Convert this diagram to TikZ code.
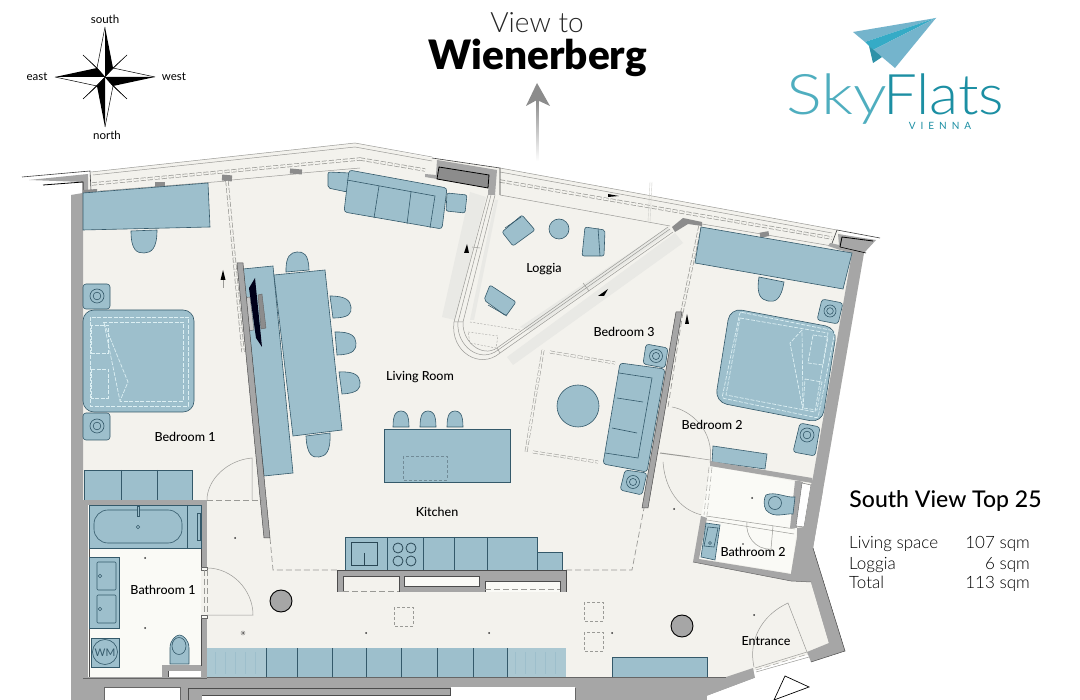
\documentclass[tikz,border=0pt]{standalone}
\usepackage{fontspec}
\setmainfont{Lato}
\newfontfamily\ltf{Lato Light}
\newfontfamily\blkf{Lato Black}
\newfontfamily\medf{Lato Medium}
\usetikzlibrary{calc}
\definecolor{floorc}{HTML}{F3F2ED}
\definecolor{bathc}{HTML}{FAFAF6}
\definecolor{bluef}{HTML}{9DBFCC}
\definecolor{blueg}{HTML}{ABC8D2}
\definecolor{blued}{HTML}{34596A}
\definecolor{wallc}{HTML}{A6A6A6}
\definecolor{wallb}{HTML}{8C8C8C}
\definecolor{linec}{HTML}{9A9A96}
\definecolor{shadec}{HTML}{E9E9E5}
\definecolor{bedd}{HTML}{DCEFF3}
\definecolor{teal1}{HTML}{1C8FA3}
\definecolor{teal2}{HTML}{4FAEBF}
\definecolor{pl1}{HTML}{74B4CC}
\definecolor{pl2}{HTML}{35ABC6}
\tikzset{
 furn/.style={fill=bluef,draw=blued,line width=.6pt},
 blk/.style={draw=blued,line width=.6pt},
 wall/.style={fill=wallc,draw=none},
 wallk/.style={fill=wallc,draw=black!70,line width=.5pt},
 thin1/.style={draw=linec,line width=.5pt},
 dline/.style={draw=linec,line width=.7pt,dash pattern=on 6pt off 3pt},
 glass/.style={draw=linec,line width=.7pt,dash pattern=on 5pt off 2pt,double=floorc,double distance=1.8pt},
 bdash/.style={draw=bedd,line width=.7pt,dash pattern=on 4pt off 1.5pt},
 room/.style={font=\medf\fontsize{12.5}{14}\selectfont,text=black,inner sep=0pt},
 comp/.style={font=\fontsize{11.5}{13}\selectfont,text=black,inner sep=0pt},
 tab/.style={font=\ltf\fontsize{17}{19}\selectfont,text=black,inner sep=0pt},
 mark1/.style={fill=black,draw=none},
 dot1/.style={fill=black!80,draw=none},
}
% half round stool: ends A,B and tip T
\newcommand{\stool}[4]{%
 \coordinate (sa) at (#1); \coordinate (sb) at (#2); \coordinate (st) at (#3,#4);
 \coordinate (sm) at ($(sa)!.5!(sb)$);
 \draw[furn] (sa) .. controls ($(sa)+0.85*(st)-0.85*(sm)$) and ($(st)+0.55*(sa)-0.55*(sm)$) .. (st)
   .. controls ($(st)+0.55*(sb)-0.55*(sm)$) and ($(sb)+0.85*(st)-0.85*(sm)$) .. (sb) -- cycle;}
\newcommand{\nstand}[4]{%
 \draw[furn,rounded corners=3pt] #1;
 \draw[blk] (#2,#3) circle (#4); \draw[blk] (#2,#3) circle (#4*0.55);}
\begin{document}
\begin{tikzpicture}[x=1pt,y=-1pt]
\useasboundingbox (0,0) rectangle (1080,700);
\fill[white] (0,0) rectangle (1080,700);
% floor
\fill[floorc] (91,172) -- (355,143) -- (432,158) -- (500,168) -- (837,230) -- (864,253) -- (813,548) -- (845,651) -- (807,655) -- (755,670) -- (707,696) -- (83,696) -- (83,190) -- cycle;
% ---- balcony lines
\draw[thin1] (91,172) -- (355,143) -- (432,157);
\draw[thin1] (93,175) -- (355,147) -- (432,161);
\draw[thin1] (100,191) -- (227,181) (232,180) -- (296,174) (302,173) -- (360,168);
\draw[glass] (92,184) -- (360,159);
\draw[glass] (360,159) -- (425,170);
\draw[thin1] (500,168) -- (837,230);
\draw[thin1] (500,172) -- (832,233);
\draw[thin1] (500,195) -- (670,226);
\draw[glass] (500,181) -- (832,238);
\draw[thin1] (702,224) -- (838,247);
\draw[draw=shadec!70!linec,line width=.4pt] (650,182) -- (648,222) (652,182) -- (650,222);
\fill[wallb] (155,182) rectangle (165,188);
\fill[wallb,rotate around={-5:(227,178)}] (222,175) rectangle (232,181);
\fill[wallb,rotate around={-5:(296,171)}] (290,169) rectangle (302,174);
\fill[wallb,rotate around={10:(764,235)}] (760,232) rectangle (769,237);
\draw[glass] (227,181) -- (243,352);
\draw[glass] (700,226) -- (682,312);
\draw[dline] (683,312) -- (668,407);
% ---- walls, left top
\draw[draw=black!75,line width=.6pt] (22,177) -- (90,171) -- (91,190);
\fill[wall] (29,180) -- (88,174) -- (88,190) -- (83,193) -- (83,182) -- cycle;
\fill[wall] (71,195) -- (83,193) -- (83,700) -- (71,700) -- cycle;
\draw[black,line width=.8pt] (43,185) -- (83,182) -- (83,193);
\fill[wallb] (83,190) -- (97,189) -- (97,193) -- (83,194) -- cycle;
% middle pier
\draw[draw=black!75,line width=.6pt] (432,158) -- (500,168) -- (500,195);
\fill[wall] (437,160) -- (497,170) -- (495,195) -- (488,195) -- (489,175) -- (439,167) -- (437,179) -- (425,177) -- (425,174) -- (436,175) -- cycle;
\fill[wallb,draw=black,line width=.8pt] (439,167) -- (489,175) -- (488,188) -- (437,179) -- cycle;
% right pier
\draw[draw=black!75,line width=.6pt] (831,246) -- (837,230) -- (880,238);
\fill[wall] (838,234) -- (876,240) -- (864,253) -- (852,253) -- (840,250) -- (828,246) -- (830,243) -- (839,245) -- cycle;
\fill[wall] (852,253) -- (864,253) -- (813,548) -- (797,537) -- (804,527) -- (813,477) -- cycle;
\draw[black,line width=.8pt] (840,247) -- (842,237) -- (873,241);
\draw[black,line width=.6pt] (840,247) -- (866,253);
% corner at loggia
\fill[wallb] (672,227) -- (683,218) -- (702,222) -- (702,226) -- (688,224) -- (675,232) -- cycle;
% ---- Loggia
\fill[shadec] (442,317) -- (455,320) -- (486,197) -- (470,192) -- cycle;
\fill[shadec] (507,357) -- (513,365) -- (683,243) -- (675,233) -- cycle;
\fill[shadec] (520,327) -- (668,227) -- (671,231) -- (530,331) -- cycle;
\fill[shadec] (470,320) -- (495,200) -- (498,200) -- (474,320) -- cycle;
\draw[thin1] (488,195) -- (454,322) .. controls (450,352) and (480,370) .. (500,353) -- (673,232);
\draw[thin1] (495,195) -- (463,322) .. controls (462,342) and (482,358) .. (497,348) -- (668,227);
\draw[thin1] (491,195) -- (458,322) .. controls (456,346) and (480,364) .. (498,350) -- (670,229);
\draw[thin1] (454,322) -- (463,322) (497,348) -- (500,353);
\draw[thin1] (472,247) -- (480,248) (583,283) -- (589,291);
\draw[draw=linec,line width=.35pt,dash pattern=on 2pt off 1.5pt] (470,322) -- (520,330) (468,332) -- (498,336) -- (496,348) -- (470,343) -- cycle;
% ---- Blue furniture living room
\draw[furn,rounded corners=2pt] (328,172) -- (350,173) -- (347,192) -- (328,188) -- cycle;
\draw[furn,rounded corners=2pt] (447,193) -- (467,195) -- (465,213) -- (446,211) -- cycle;
\draw[furn,rounded corners=3pt] (349,170) -- (447,188) -- (442,229) -- (344,212) -- cycle;
\draw[blk] (347,180) -- (435,196) -- (430,228) (379,186) -- (374,218) (411,192) -- (407,224);
\draw[furn] (243,269) -- (273,266) -- (293,473) -- (264,476) -- cycle;
\stool{286,272}{309,270}{297}{252}
\draw[furn] (274,275) -- (325,270) -- (342,430) -- (293,436) -- cycle;
\stool{330,296}{333,318}{351}{307}
\stool{335,332}{337,355}{356}{343}
\stool{339,372}{342,394}{360}{382}
\stool{306,436}{330,433}{319}{457}
% TV
\fill[wallc!60!white,draw=black!60,line width=.4pt] (243,298) -- (250,297) -- (254,330) -- (246,331) -- cycle;
\fill[wallb,draw=black!60,line width=.4pt] (258,295) -- (262,294) -- (266,328) -- (261,329) -- cycle;
\fill[black!90!blue] (249,288) -- (255,278) -- (262,347) -- (256,338) -- cycle;
% slanted wall left
\fill[wallk] (237,263) -- (243,263) -- (270,538) -- (264,538) -- cycle;
% island
\draw[furn] (384,429) -- (510,429) -- (510,482) -- (384,482) -- cycle;
\draw[draw=blued!70,line width=.5pt,dash pattern=on 3pt off 2pt] (403,456) rectangle (447,480);
\stool{393,427}{409,427}{401}{411}
\stool{420,427}{436,427}{428}{411}
\stool{447,427}{463,427}{455}{411}
% ---- Bedroom 1
\draw[furn] (83,193) -- (208,183) -- (210,227) -- (83,230) -- cycle;
\stool{131,231}{157,230}{144}{253}
\nstand{(83,284) -- (110,284) -- (110,309) -- (83,309) -- cycle}{97}{296}{7}
\nstand{(83,413) -- (110,413) -- (110,440) -- (83,440) -- cycle}{97}{426}{7}
\draw[furn,rounded corners=11pt] (83,310) rectangle (194,412);
\draw[bdash] (90,317) rectangle (188,406);
\draw[bdash] (103,322) -- (183,322) -- (183,401) -- (120,401);
\draw[bdash] (104,323) -- (128,382) -- (120,401) -- (104,323);
\draw[bdash] (91,325) rectangle (108,353);
\draw[bdash] (91,369) rectangle (108,398);
\draw[furn] (84,470) rectangle (192,500);
\draw[blk] (121,470) -- (121,500) (157,470) -- (157,500);
% ---- Bathroom 1
\fill[bathc] (88,505) rectangle (201,678);
\fill[wall] (83,500) rectangle (207,505);
\fill[wall] (83,500) rectangle (88,682);
\fill[wall] (201,500) rectangle (207,567);
\fill[wall] (201,618) rectangle (207,682);
\draw[black!70,line width=.4pt] (89,505) -- (201,505) -- (201,567) (201,618) -- (201,665) -- (162,665) -- (162,671) -- (168,671) -- (168,678) -- (89,678) -- (89,505);
\fill[wall] (162,665) rectangle (201,671);
\fill[wall] (162,665) rectangle (168,678);
\fill[white] (169,671) rectangle (201,678);
\draw[furn] (89,505) rectangle (201,548);
\draw[blk] (187,505) -- (187,548);
\draw[blk,rounded corners=14pt] (94,510) rectangle (182,543);
\draw[furn] (137,506) rectangle (139.5,516);
\draw[blk] (138,527) circle (1.8);
\draw[furn] (197,513) rectangle (200,540);
\draw[furn] (89,557) rectangle (119,628);
\draw[blk,rounded corners=1pt] (97,562) rectangle (116,590);
\draw[blk,rounded corners=1pt] (97,595) rectangle (116,623);
\draw[blk] (100,576) circle (1.8) (100,609) circle (1.8);
\draw[furn] (91,638) rectangle (119,667);
\draw[blk] (105,652) circle (12.5);
\node[text=blued,font=\fontsize{10.5}{12}\selectfont,inner sep=0pt] (wm) at (105,652.5) {WM};
\draw[furn] (170,664) -- (170,648) .. controls (170,640) and (176,635) .. (179.5,635) .. controls (183,635) and (189,640) .. (189,648) -- (189,664) -- cycle;
\draw[blk] (179,646) ellipse (7 and 8.5);
\fill[dot1] (145,558) circle (1) (145,628) circle (1) (235,538) circle (1);
\fill[bathc,draw=black!60,line width=.3pt] (201,567) rectangle (207,570);
\fill[bathc,draw=black!60,line width=.3pt] (201,615) rectangle (207,618);
\draw[dline,line width=.5pt] (204,570) -- (204,615);
\draw[dline,line width=.5pt] (207,570) -- (207,615);
% doors
\draw[thin1] (207,568) .. controls (232,568) and (253,590) .. (253,615) -- (207,615);
\draw[thin1] (207,500) .. controls (207,480) and (227,460) .. (252,458) -- (252,500);
\draw[dline] (207,500) -- (262,500);
% ---- Kitchen
\draw[dline] (270,538) -- (273,570) -- (337,570);
\draw[dline] (566,570) -- (632,570) -- (644,508);
\draw[furn] (345,537) rectangle (537,570);
\draw[furn] (537,552) rectangle (562,570);
\draw[blk] (387,537) -- (387,570) (423,537) -- (423,570) (454,537) -- (454,570) (487,537) -- (487,570);
\draw[draw=blued!80!black,line width=.9pt] (351,542) rectangle (377,565);
\draw[draw=blued!80!black,line width=.9pt] (364,553) -- (364,565);
\foreach \hx/\hy in {398/548,411/548,398/561,411/561}{\draw[draw=blued!80!black,line width=.8pt] (\hx,\hy) circle (5);}
\fill[wall] (337,570) rectangle (566,592);
\fill[floorc] (343,576) rectangle (399,592);
\fill[bathc,draw=black!70,line width=.5pt] (404,576) rectangle (479,586);
\fill[bathc] (485,581) rectangle (560,592);
\draw[black!70,line width=.5pt] (337,592) -- (337,570) -- (566,570) -- (566,592) (343,592) -- (343,576) -- (399,576) -- (399,592) (485,592) -- (485,581) -- (560,581) -- (560,592);
\draw[dline,line width=.5pt] (343,591) -- (399,591) (485,589) -- (560,589);
\draw[draw=linec,line width=.5pt,dash pattern=on 3pt off 2pt] (394,607) rectangle (413,626);
\draw[draw=linec,line width=.5pt,dash pattern=on 3pt off 2pt] (584,602) rectangle (603,621);
\draw[draw=linec,line width=.5pt,dash pattern=on 3pt off 2pt] (584,632) rectangle (603,651);
\fill[dot1] (366,633) circle (1) (489,633) circle (1) (612,633) circle (1);
\fill[bluef] (207,648) rectangle (566,677);
\fill[blueg] (207,648) rectangle (266,677);
\fill[blueg] (507,648) rectangle (566,677);
\foreach \d in {215,225,235,245,255,515,525,535,545,555}{\draw[bluef,line width=.4pt] (\d,652) -- (\d,674);}
\draw[blk] (207,677) -- (566,677);
\foreach \d in {266,297,332,366,401,437,473,507}{\draw[blk] (\d,648) -- (\d,677);}
% bottom wall
\fill[wall] (71,677) -- (726,677) -- (753,668) -- (755,678) -- (707,696) -- (707,700) -- (71,700) -- cycle;
\draw[black!60,line width=.4pt] (83,678) -- (207,678) (207,677) -- (726,677);
\fill[white] (104,687) rectangle (180,700);
\draw[black!60,line width=.4pt] (104,700) -- (104,687) -- (180,687) -- (180,700);
\fill[wall,draw=black!70,line width=.5pt] (188,700) -- (188,688) -- (450,688) -- (450,695) -- (202,695) -- (202,700) -- cycle;
\fill[white] (202,695.5) rectangle (575,700);
\fill[white] (451,687) rectangle (575,700);
\draw[black!60,line width=.4pt] (575,700) -- (575,688);
\fill[white] (707,696) -- (755,678) -- (1080,678) -- (1080,700) -- (707,700) -- cycle;
% columns
\draw[fill=wallc,draw=black,line width=.9pt] (281,601) circle (11);
\draw[fill=wallc,draw=black,line width=.9pt] (682,626) circle (11);
\draw[draw=linec,line width=.5pt] (243,633) circle (2); \fill[dot1] (243,633) circle (1);
% ---- Bedroom 3
\draw[glass,line width=.5pt] (543,350) -- (526,452);
\draw[glass,line width=.5pt] (550,352) -- (615,363);
\draw[glass,line width=.5pt] (533,452) -- (598,462);
\draw[furn] (578,406) circle (21);
\nstand{(646,344) -- (668,348) -- (665,368) -- (643,364) -- cycle}{656}{356}{6.5}
\draw[furn,rounded corners=3pt] (620,363) -- (665,369) -- (647,472) -- (603,464) -- cycle;
\draw[blk] (619,373) -- (652,378) -- (638,458) -- (605,453) (617,398) -- (643,402) (612,428) -- (637,433);
\nstand{(625,470) -- (647,473) -- (642,495) -- (620,490) -- cycle}{633}{482}{6.5}
\fill[wallk] (676,312) -- (682,312) -- (648,508) -- (642,508) -- cycle;
% ---- Bedroom 2
\draw[furn] (701,227) -- (852,253) -- (843,289) -- (695,263) -- cycle;
\stool{759,277}{784,282}{768}{301}
\nstand{(822,299) -- (843,303) -- (838,324) -- (817,320) -- cycle}{830}{311}{6}
\nstand{(800,423) -- (820,427) -- (815,456) -- (793,452) -- cycle}{807}{435}{7}
\draw[furn,rounded corners=12pt] (730,308) -- (837,328) -- (822,423) -- (715,402) -- cycle;
\draw[bdash,rounded corners=2pt] (740,312) -- (835,331) -- (818,418) -- (722,398) -- cycle;
\draw[bdash] (740,318) -- (828,333) -- (815,412) -- (726,395) -- cycle;
\draw[bdash] (802,330) -- (790,343) -- (803,410) -- (802,330);
\draw[bdash] (813,335) -- (828,337) -- (823,365) -- (808,363) -- cycle;
\draw[bdash] (805,379) -- (822,382) -- (817,410) -- (803,408) -- cycle;
\draw[furn] (713,446) -- (767,454) -- (765,469) -- (712,462) -- cycle;
\draw[thin1] (672,407) .. controls (690,410) and (715,430) .. (710,463);
\draw[draw=linec,line width=1pt] (660,453) -- (690,457);
\draw[thin1] (690,457) -- (710,460);
\draw[thin1] (663,462) .. controls (665,490) and (680,510) .. (702,515);
% WC + bathroom 2
\fill[bathc] (711,466) -- (803,483) -- (791,573) -- (697,558) -- (701,516) -- cycle;
\fill[wall] (710,461) -- (812,478) -- (812,483) -- (710,466) -- cycle;
\fill[wall] (799,481) -- (803,482) -- (797,528) -- (790,528) -- (795,481) -- cycle;
\fill[white,draw=black!60,line width=.4pt] (802,483) -- (811,485) -- (804,527) -- (796,526) -- cycle;
\fill[wall] (813,478) -- (823,490) -- (813,548) -- (845,651) -- (829,643) -- (811,582) -- (791,581) -- (791,573) -- (797,537) -- (797,528) -- (804,527) -- (811,485) -- cycle;
\fill[wall] (701,516) -- (707,518) -- (699,559) -- (791,574) -- (791,581) -- (693,562) -- cycle;
\fill[wall] (811,582) -- (813,548) -- (845,651) -- (811,662) -- (807,652) -- (829,643) -- cycle;
\draw[black!60,line width=.5pt] (693,562) -- (791,581) -- (811,582);
\draw[black!70,line width=.5pt] (813,548) -- (845,651) -- (811,662);
\draw[furn] (706,523) -- (720,525) -- (715,560) -- (701,557) -- cycle;
\draw[blk] (708,527) -- (718,528) -- (714,547) -- (704,546) -- cycle;
\draw[blk] (710,543) circle (1.5);
\draw[furn] (766,495) .. controls (775,491) and (786,498) .. (795,497) -- (793,514) .. controls (785,513) and (774,519) .. (766,510) .. controls (763,505) and (764,498) .. (766,495) -- cycle;
\draw[blk] (775,503) circle (6.5);
\draw[thin1] (706,516) -- (795,529) (707,520) -- (794,534);
\draw[thin1] (747,522) .. controls (745,535) and (755,550) .. (771,549) -- (773,526);
\draw[dline,line width=.4pt] (709,467) -- (704,515) (712,467) -- (707,515);
\fill[dot1] (752,498) circle (1) (743,544) circle (.8) (674,509) circle (1) (754,615) circle (1);
% Entrance
\draw[thin1] (754,667) .. controls (748,640) and (762,615) .. (788,603) -- (807,652);
\draw[thin1] (755,668) -- (807,652) (756,672) -- (809,657);
\draw[dline,line width=.4pt] (756,670) -- (808,654);
\draw[furn,draw=none] (612,657) rectangle (707,677);
\draw[draw=blued,line width=.4pt] (612,677) -- (612,657) -- (707,657) -- (707,677);
\draw[draw=black,line width=.7pt,fill=white] (785,676) -- (809,687) -- (774,700) -- cycle;
% direction marks
\fill[mark1] (223,270) -- (225.5,280) -- (220.5,280) -- cycle;
\fill[mark1] (467,244) -- (469,253) -- (464,253) -- cycle;
\fill[mark1] (598,296) -- (608,289) -- (604,296) -- cycle;
\fill[mark1] (619,196) -- (608,194) -- (608,197) -- cycle;
\fill[mark1] (687,314) -- (689,324) -- (685,324) -- cycle;
\draw[draw=linec,line width=.3pt] (223,280) -- (223,288);
% loggia furniture
\draw[furn,rounded corners=2pt] (522,215) -- (535,230) -- (513,246) -- (502,232) -- cycle;
\draw[blk] (505,228) -- (521,217);
\draw[furn] (559,229) circle (10);
\draw[furn,rounded corners=2pt] (585,227) -- (605,230) -- (604,256) -- (582,256) -- cycle;
\draw[blk] (598,228) -- (600,256);
\draw[furn,rounded corners=2pt] (490,285) -- (516,302) -- (506,316) -- (484,300) -- cycle;
\draw[blk] (488,305) -- (507,316);
% compass
\begin{scope}[line join=miter]
\foreach \ax/\ay/\bx/\by/\cx/\cy in {105/27/113/68/105/77, 105/127/97/86/105/77, 55/77/97/68/105/77, 155/77/113/86/105/77,
 127/55/113/68/105/77, 83/99/97/86/105/77, 83/55/97/68/105/77, 127/99/113/86/105/77}
 {\fill[black] (\ax,\ay) -- (\bx,\by) -- (\cx,\cy) -- cycle;}
\foreach \ax/\ay/\bx/\by in {105/27/97/68, 105/127/113/86, 55/77/97/86, 155/77/113/68,
 127/55/113/68, 83/99/97/86, 83/55/97/68, 127/99/113/86}
 {\draw[black,line width=.5pt] (\ax,\ay) -- (\bx,\by);}
\draw[black,line width=.4pt] (97,68) -- (105,77) (113,86) -- (105,77) (97,86) -- (105,77) (113,68) -- (105,77);
\end{scope}
\node[comp] (n-s) at (105,19) {south};
\node[comp] (n-n) at (107,135) {north};
\node[comp] (n-e) at (37,77) {east};
\node[comp] (n-w) at (174,77) {west};
% view title
\node[inner sep=0pt,font=\ltf\fontsize{28}{30}\selectfont,text=black!85] (v1) at (537,23) {View to};
\node[inner sep=0pt,font=\blkf\fontsize{40.5}{42}\selectfont] (v2) at (538,57.5) {Wienerberg};
\shade[top color=wallb,bottom color=white] (536,100) rectangle (538.5,161);
\fill[wallb] (537,83) -- (550,106) -- (537,100) -- (526,106) -- cycle;
% logo
\fill[pl1] (853,32) -- (936,18) -- (865,42) -- cycle;
\fill[pl2] (865,42) -- (936,18) -- (873,50) -- cycle;
\fill[pl1] (873,50) -- (936,18) -- (895,68) -- (882,57) -- cycle;
\fill[pl2!85!black] (869,46) -- (882,57) -- (873,63) -- cycle;
\node[inner sep=0pt,anchor=base west,font=\ltf\fontsize{56}{58}\selectfont,text=teal2,transform shape,xscale=1.2] (sky) at (786,115) {Sky};
\node[inner sep=0pt,anchor=base west,font=\ltf\fontsize{56}{58}\selectfont,text=teal1,transform shape,xscale=1.07] (flats) at (883,115) {Flats};
\node[inner sep=0pt,font=\fontsize{10}{11}\selectfont,text=teal1] (vienna) at (940,125.5) {V\hspace{5pt}I\hspace{5pt}E\hspace{5pt}N\hspace{5pt}N\hspace{5pt}A};
% room labels
\node[room] (r1) at (185,437) {Bedroom 1};
\node[room] (r2) at (420,377) {Living Room};
\node[room] (r3) at (544,269) {Loggia};
\node[room] (r4) at (624,332) {Bedroom 3};
\node[room] (r5) at (712,425) {Bedroom 2};
\node[room] (r6) at (437,512) {Kitchen};
\node[room] (r7) at (163,590) {Bathroom 1};
\node[room] (r8) at (753,552) {Bathroom 2};
\node[room] (r9) at (766,641) {Entrance};
% info
\node[inner sep=0pt,font=\medf\fontsize{23}{25}\selectfont] (t0) at (945.5,501) {South View Top 25};
\node[tab,anchor=base west] (a1) at (849,549) {Living space};
\node[tab,anchor=base west] (a2) at (849,569) {Loggia};
\node[tab,anchor=base west] (a3) at (849,588) {Total};
\node[tab,anchor=base east] (b1) at (1030,549) {107 sqm};
\node[tab,anchor=base east] (b2) at (1030,569) {6 sqm};
\node[tab,anchor=base east] (b3) at (1030,588) {113 sqm};
\end{tikzpicture}
\end{document}
